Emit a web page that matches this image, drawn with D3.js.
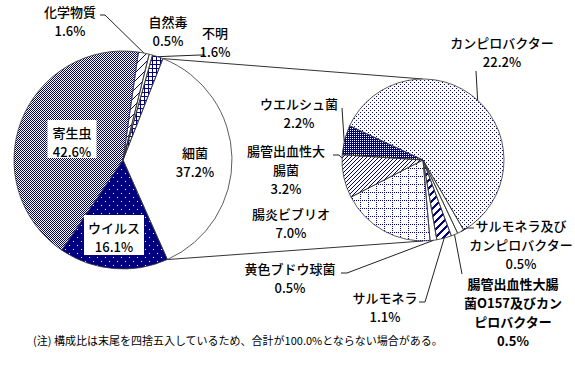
<!DOCTYPE html>
<html>
<head>
<meta charset="utf-8">
<script src="https://cdn.jsdelivr.net/npm/d3@7"></script>
<style>
body { margin: 0; background: #fff; }
text { font-family: "Noto Sans CJK JP", sans-serif; fill: #000; }
</style>
</head>
<body>
<svg></svg>
<script>
// ---- data ----
const mainLabels = ["細菌", "ウイルス", "寄生虫", "化学物質", "自然毒", "不明"];
const mainValues = [37.2, 16.1, 42.6, 1.6, 0.5, 1.6];

const subLabels = ["カンピロバクター", "サルモネラ及びカンピロバクター", "腸管出血性大腸菌O157及びカンピロバクター",
    "サルモネラ", "黄色ブドウ球菌", "腸炎ビブリオ", "腸管出血性大腸菌", "ウエルシュ菌"];
const subValues = [22.2, 0.5, 0.5, 1.1, 0.5, 7.0, 3.2, 2.2];

const noteText = "(注) 構成比は末尾を四捨五入しているため、合計が100.0%とならない場合がある。";

// ---- layout ----
const W = 575, H = 365;
const navy = "#000080";
const main = {cx: 123, cy: 160, r: 109, start: 21.5};
const sub = {cx: 423, cy: 160, r: 81, start: -65};

const svg = d3.select("svg").attr("width", W).attr("height", H);
const defs = svg.append("defs");

// pixel fills: a small tile is repeated over a full-page canvas,
// then each slice shows that image through a clip path (keeps pixels crisp)
const fillImg = {};
function pattern(id, w, h, bg, draw) {
    const tile = document.createElement("canvas");
    tile.width = w; tile.height = h;
    const tctx = tile.getContext("2d");
    tctx.fillStyle = bg;
    tctx.fillRect(0, 0, w, h);
    tctx.fillStyle = navy;
    draw(tctx);
    const c = document.createElement("canvas");
    c.width = W; c.height = H;
    const ctx = c.getContext("2d");
    ctx.fillStyle = ctx.createPattern(tile, "repeat");
    ctx.fillRect(0, 0, W, H);
    fillImg[id] = c.toDataURL();
}
// diagonal "/" pixel lines, thickness th, period n
function diag(ctx, n, th) {
    for (let y = 0; y < n; y++)
        for (let k = 0; k < th; k++) ctx.fillRect((n - 1 - y + k) % n, y, 1, 1);
}

pattern("checker", 2, 2, "#fff", ctx => { ctx.fillRect(0, 0, 1, 1); ctx.fillRect(1, 1, 1, 1); });
pattern("virusDots", 8, 8, navy, ctx => { ctx.fillStyle = "#fff"; ctx.fillRect(1, 1, 1, 1); ctx.fillRect(5, 5, 1, 1); });
pattern("wideDiag", 8, 8, "#fff", ctx => diag(ctx, 8, 1));
pattern("grid", 4, 4, "#fff", ctx => { ctx.fillRect(0, 0, 4, 1); ctx.fillRect(0, 0, 1, 4); });
pattern("denseDots", 2, 2, navy, ctx => { ctx.fillStyle = "#fff"; ctx.fillRect(0, 0, 1, 1); });
pattern("fineDiag", 4, 4, "#fff", ctx => diag(ctx, 4, 1));
pattern("dotGrid", 8, 8, "#fff", ctx => {
    for (let i = 0; i < 8; i += 2) { ctx.fillRect(i, 0, 1, 1); ctx.fillRect(0, i, 1, 1); }
});
pattern("sparseDots", 4, 4, "#fff", ctx => { ctx.fillRect(0, 0, 1, 1); ctx.fillRect(2, 2, 1, 1); });
pattern("thickDiag", 8, 8, "#fff", ctx => diag(ctx, 8, 3));

const mainFill = {"細菌": null, "ウイルス": "virusDots", "寄生虫": "checker",
    "化学物質": "wideDiag", "自然毒": null, "不明": "grid"};
const subFill = {"カンピロバクター": "sparseDots", "サルモネラ及びカンピロバクター": null,
    "腸管出血性大腸菌O157及びカンピロバクター": null, "サルモネラ": "thickDiag",
    "黄色ブドウ球菌": null, "腸炎ビブリオ": "dotGrid", "腸管出血性大腸菌": "fineDiag",
    "ウエルシュ菌": "denseDots"};

const rad = d => d * Math.PI / 180;

function makePie(labels, values, startDeg) {
    return d3.pie().sort(null).value(d => d.v)
        .startAngle(rad(startDeg)).endAngle(rad(startDeg) + 2 * Math.PI)
        (labels.map((l, i) => ({name: l, v: values[i]})));
}
const mainArcs = makePie(mainLabels, mainValues, main.start);
const subArcs = makePie(subLabels, subValues, sub.start);

// point on the rim of a pie at a fraction t of a slice
function rim(P, d, t) {
    const a = d.startAngle + t * (d.endAngle - d.startAngle);
    return [P.cx + P.r * Math.sin(a), P.cy - P.r * Math.cos(a)];
}
function angPt(P, a) {
    return [P.cx + P.r * Math.sin(a), P.cy - P.r * Math.cos(a)];
}

// connector lines between the two pies
const bac = mainArcs.find(d => d.data.name == "細菌");
const lineG = svg.append("g").attr("fill", "none").attr("stroke", "#333").attr("stroke-width", 1);
lineG.append("line")
    .attr("x1", angPt(main, bac.startAngle)[0]).attr("y1", angPt(main, bac.startAngle)[1])
    .attr("x2", angPt(sub, 0)[0]).attr("y2", angPt(sub, 0)[1]);
lineG.append("line")
    .attr("x1", angPt(main, bac.endAngle)[0]).attr("y1", angPt(main, bac.endAngle)[1])
    .attr("x2", angPt(sub, Math.PI)[0]).attr("y2", angPt(sub, Math.PI)[1]);

let clipN = 0;
function drawPie(P, arcs, fills) {
    const arc = d3.arc().innerRadius(0).outerRadius(P.r);
    const g = svg.append("g");
    for (const d of arcs) {
        const id = "clip" + (clipN++);
        defs.append("clipPath").attr("id", id)
            .append("path").attr("transform", `translate(${P.cx},${P.cy})`).attr("d", arc(d));
        g.append("path")
            .attr("transform", `translate(${P.cx},${P.cy})`)
            .attr("d", arc(d)).attr("fill", "#fff");
        const f = fills[d.data.name];
        if (f) {
            g.append("image").attr("href", fillImg[f])
                .attr("x", 0).attr("y", 0).attr("width", W).attr("height", H)
                .attr("clip-path", `url(#${id})`)
                .style("image-rendering", "pixelated");
        }
    }
    // outlines on top
    g.selectAll("path.edge").data(arcs).enter().append("path")
        .attr("class", "edge")
        .attr("transform", `translate(${P.cx},${P.cy})`)
        .attr("d", arc)
        .attr("fill", "none")
        .attr("stroke", "#333")
        .attr("stroke-width", 0.8)
        .attr("stroke-linejoin", "round");
}
drawPie(main, mainArcs, mainFill);
drawPie(sub, subArcs, subFill);

// ---- labels ----
const pct = v => v.toFixed(1) + "%";
const labelLayout = {
    "化学物質": {pie: "main", lines: ["化学物質"], x: 70, y: 11, lead: [[100, 15], [105, 15]], t: 0.5},
    "自然毒": {pie: "main", lines: ["自然毒"], x: 168, y: 21},
    "不明": {pie: "main", lines: ["不明"], x: 215, y: 32, lead: [[205, 55], [200, 55]], t: 0.5},
    "寄生虫": {pie: "main", lines: ["寄生虫"], x: 72, y: 132, box: [49, 38]},
    "細菌": {pie: "main", lines: ["細菌"], x: 195, y: 152},
    "ウイルス": {pie: "main", lines: ["ウイルス"], x: 114, y: 227, box: [60, 40]},
    "カンピロバクター": {pie: "sub", lines: ["カンピロバクター"], x: 502, y: 42, lead: [[476, 71]], t: 0.5},
    "ウエルシュ菌": {pie: "sub", lines: ["ウエルシュ菌"], x: 299, y: 103, lead: [[342, 108]], t: 0.45},
    "腸管出血性大腸菌": {pie: "sub", lines: ["腸管出血性大", "腸菌"], x: 286, y: 150, lead: [[333, 155], [339, 155]], t: 0.92},
    "腸炎ビブリオ": {pie: "sub", lines: ["腸炎ビブリオ"], x: 291, y: 213},
    "黄色ブドウ球菌": {pie: "sub", lines: ["黄色ブドウ球菌"], x: 290, y: 268, lead: [[341, 273], [347, 273]], t: 0.5},
    "サルモネラ": {pie: "sub", lines: ["サルモネラ"], x: 385, y: 297, lead: [[419, 302], [425, 302]], t: 0.5},
    "サルモネラ及びカンピロバクター": {pie: "sub", lines: ["サルモネラ及び", "カンピロバクター"], x: 521, y: 225, lead: [[474, 228], [467, 228]], t: 0.5},
    "腸管出血性大腸菌O157及びカンピロバクター": {pie: "sub", lines: ["腸管出血性大腸", "菌O157及びカン", "ピロバクター"], x: 513, y: 283, lead: [[462, 274]], t: 0.5, bold: true}
};

const labelG = svg.append("g");
for (const [name, L] of Object.entries(labelLayout)) {
    const P = L.pie == "main" ? main : sub;
    const arcs = L.pie == "main" ? mainArcs : subArcs;
    const d = arcs.find(a => a.data.name == name);
    const gap = 19;
    const lines = L.lines.concat([pct(d.data.v)]);

    if (L.lead) {
        const pts = L.lead.concat([rim(P, d, L.t)]);
        labelG.append("path")
            .attr("d", d3.line()(pts))
            .attr("fill", "none").attr("stroke", "#222").attr("stroke-width", 1);
    }
    if (L.box) {
        labelG.append("rect")
            .attr("x", L.x - L.box[0] / 2).attr("y", L.y - 12)
            .attr("width", L.box[0]).attr("height", L.box[1])
            .attr("fill", "#fff");
    }
    const t = labelG.append("text")
        .attr("text-anchor", "middle")
        .attr("font-size", 13)
        .attr("font-weight", L.bold ? 700 : 500);
    lines.forEach((s, i) => {
        t.append("tspan").attr("x", L.x).attr("y", L.y + i * gap)
            .attr("dominant-baseline", "central").text(s);
    });
}

svg.append("text")
    .attr("x", 33).attr("y", 340)
    .attr("dominant-baseline", "central")
    .attr("font-size", 11)
    .text(noteText);
</script>
</body>
</html>
